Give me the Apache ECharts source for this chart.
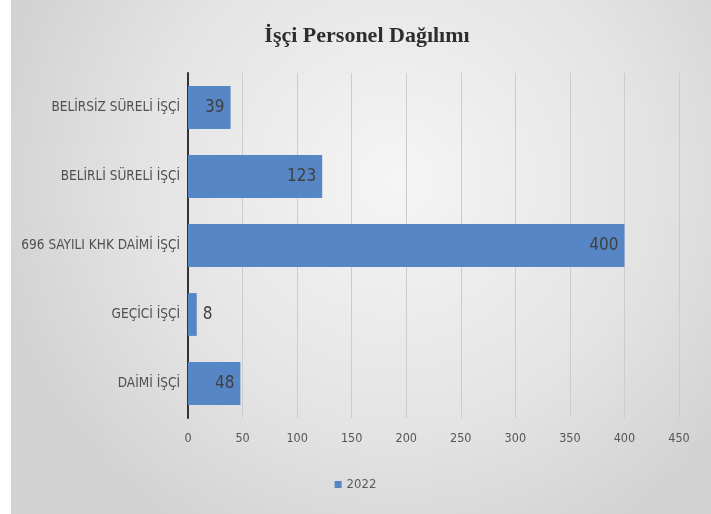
<!DOCTYPE html>
<html><head><meta charset="utf-8">
<script src="https://cdn.jsdelivr.net/npm/echarts@6/dist/echarts.min.js"></script>
<style>html,body{margin:0;padding:0;background:#fff}#c{width:711px;height:514px}</style>
</head><body><div id="c"></div>
<script>
var categories = ['DAİMİ İŞÇİ', 'GEÇİCİ İŞÇİ', '696 SAYILI KHK DAİMİ İŞÇİ', 'BELİRLİ SÜRELİ İŞÇİ', 'BELİRSİZ SÜRELİ İŞÇİ'];
var values2022 = [48, 8, 400, 123, 39];
var xTicks = [0, 50, 100, 150, 200, 250, 300, 350, 400, 450];

var NARROW = "'Liberation Sans Narrow', 'DejaVu Sans Condensed', 'Liberation Sans', sans-serif";
var chart = echarts.init(document.getElementById('c'));
var data = values2022.map(function (v) {
  return { value: v, label: { position: v < 20 ? 'right' : 'insideRight' } };
});
chart.setOption({
  backgroundColor: '#ffffff',
  graphic: [{
    type: 'rect', z: -10, silent: true,
    shape: { x: 11, y: 0, width: 700, height: 514 },
    style: {
      fill: { type: 'radial', x: 0.55, y: 0.35, r: 0.8,
        colorStops: [{ offset: 0, color: '#f5f5f5' }, { offset: 0.6, color: '#e4e4e4' }, { offset: 1, color: '#d2d2d2' }] }
    }
  }],
  title: {
    text: 'İşçi Personel Dağılımı', left: 362, top: 20, textAlign: 'center',
    textStyle: { fontFamily: 'Liberation Serif', fontWeight: 'bold', fontSize: 22, color: '#2e2e2e' }
  },
  legend: {
    bottom: 18, left: 'center', itemWidth: 7, itemHeight: 7, icon: 'rect',
    textStyle: { fontFamily: NARROW, fontSize: 13, color: '#595959' },
    data: ['2022']
  },
  grid: { left: 188, right: 32, top: 73, bottom: 96 },
  xAxis: {
    type: 'value', min: 0, max: 450, interval: 50,
    axisLine: { show: false },
    axisTick: { show: false },
    splitLine: { show: true, lineStyle: { color: '#cccccc', width: 1 } },
    axisLabel: { fontFamily: NARROW, fontSize: 12.5, color: '#555', margin: 14,
      formatter: function (v) { return xTicks.indexOf(v) >= 0 ? String(v) : ''; } }
  },
  yAxis: {
    type: 'category', data: categories,
    axisLine: { show: true, lineStyle: { color: '#333', width: 2 } },
    axisTick: { show: false },
    axisLabel: { fontFamily: NARROW, fontSize: 13.5, color: '#505050', margin: 8 }
  },
  series: [{
    name: '2022', type: 'bar', data: data, barCategoryGap: '38%',
    itemStyle: { color: '#5686c6' },
    label: { show: true, fontFamily: NARROW, fontSize: 17, color: '#404040', distance: 6 }
  }]
});
</script></body></html>
